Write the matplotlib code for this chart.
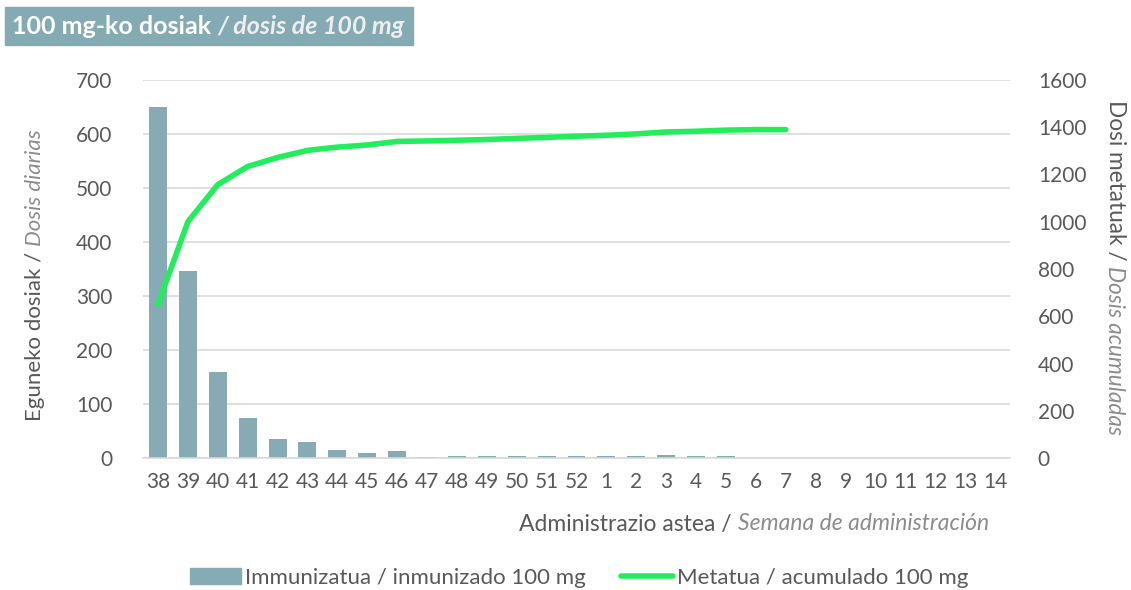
import numpy as np
import matplotlib
matplotlib.use('Agg')
import matplotlib.pyplot as plt
from matplotlib.patches import Patch
from matplotlib.lines import Line2D

# datuak / datos
weeks = ['38', '39', '40', '41', '42', '43', '44', '45', '46', '47', '48', '49', '50', '51', '52',
         '1', '2', '3', '4', '5', '6', '7', '8', '9', '10', '11', '12', '13', '14']
daily = [650, 346, 159, 75, 36, 30, 15, 9, 13, 2, 3, 3, 4, 4, 4,
         3, 4, 6, 3, 4, 0, 0, 0, 0, 0, 0, 0, 0, 0]
cumulative = [650, 1000, 1157, 1234, 1272, 1302, 1316, 1325, 1340, 1342, 1345, 1348, 1353, 1357, 1362,
              1366, 1372, 1380, 1383, 1388, 1390, 1390]

bar_c = '#86abb5'
line_c = '#22ee5b'
txt_c = '#595959'
ital_c = '#8c8c8c'

plt.rcParams['font.family'] = ['Lato', 'DejaVu Sans']

fig = plt.figure(figsize=(11.31, 5.9), dpi=100)
ax = fig.add_axes([143/1131, 132/590, 867/1131, 378/590])
ax2 = ax.twinx()

x = np.arange(len(weeks))
ax.bar(x, daily, width=0.6, color=bar_c, zorder=2)
ax2.plot(np.arange(len(cumulative)), cumulative, color=line_c, lw=4, solid_capstyle='round', zorder=3)

ax.set_xlim(-0.5, len(weeks) - 0.5)
ax.set_ylim(0, 700)
ax2.set_ylim(0, 1600)
ax.set_yticks(range(0, 701, 100))
ax2.set_yticks(range(0, 1601, 200))
ax.set_xticks(x)
ax.set_xticklabels(weeks)
ax.grid(axis='y', color='#d9d9d9', lw=1.2, zorder=0)
ax.set_axisbelow(True)

for a in (ax, ax2):
    for s in a.spines.values():
        s.set_visible(False)
    a.tick_params(length=0, labelsize=15, labelcolor=txt_c)
ax.spines['bottom'].set_visible(True)
ax.spines['bottom'].set_color('#d9d9d9')
ax.spines['bottom'].set_linewidth(1.2)
ax.tick_params(axis='y', pad=22)
ax.tick_params(axis='x', pad=10)
ax2.tick_params(axis='y', pad=20)

fig.canvas.draw()
r = fig.canvas.get_renderer()


def mixed(xp, yp, parts, rotation=0, **kw):
    # parts: (text, color, style) drawn one after another
    for t, c, st in parts:
        if rotation == 0:
            tx = fig.text(xp / 1131, 1 - yp / 590, t, color=c, style=st, ha='left', va='center', **kw)
            xp += tx.get_window_extent(r).width
        elif rotation == 90:
            tx = fig.text(xp / 1131, 1 - yp / 590, t, color=c, style=st, rotation=90,
                          ha='center', va='bottom', **kw)
            yp -= tx.get_window_extent(r).height
        else:
            tx = fig.text(xp / 1131, 1 - yp / 590, t, color=c, style=st, rotation=270,
                          ha='center', va='top', **kw)
            yp += tx.get_window_extent(r).height


# izenburua / título
fig.patches.append(plt.Rectangle((5/1131, 1 - 45/590), 408/1131, 38/590, transform=fig.transFigure,
                                 color='#84aab4', zorder=0))
mixed(12, 27, [('100 mg-ko dosiak ', 'white', 'normal'), ('/ dosis de 100 mg', '#eeeeee', 'italic')],
      fontsize=18, fontweight='bold')

mixed(35, 421, [('Eguneko dosiak / ', txt_c, 'normal'), ('Dosis diarias', ital_c, 'italic')],
      rotation=90, fontsize=16)
mixed(1115, 100, [('Dosi metatuak / ', txt_c, 'normal'), ('Dosis acumuladas', ital_c, 'italic')],
      rotation=270, fontsize=16.3)
mixed(519, 524, [('Administrazio astea / ', txt_c, 'normal'), ('Semana de administración', ital_c, 'italic')],
      fontsize=16.5)

handles = [Patch(color=bar_c), Line2D([], [], color=line_c, lw=4, solid_capstyle='round')]
labels = ['Immunizatua / inmunizado 100 mg', 'Metatua / acumulado 100 mg']
fig.legend(handles, labels, loc='center', bbox_to_anchor=(579/1131, 1 - 578/590), ncol=2, frameon=False,
           fontsize=16, labelcolor=txt_c, handlelength=2.3, handletextpad=0.2, columnspacing=1.6)

fig.savefig('out.png', dpi=100)
